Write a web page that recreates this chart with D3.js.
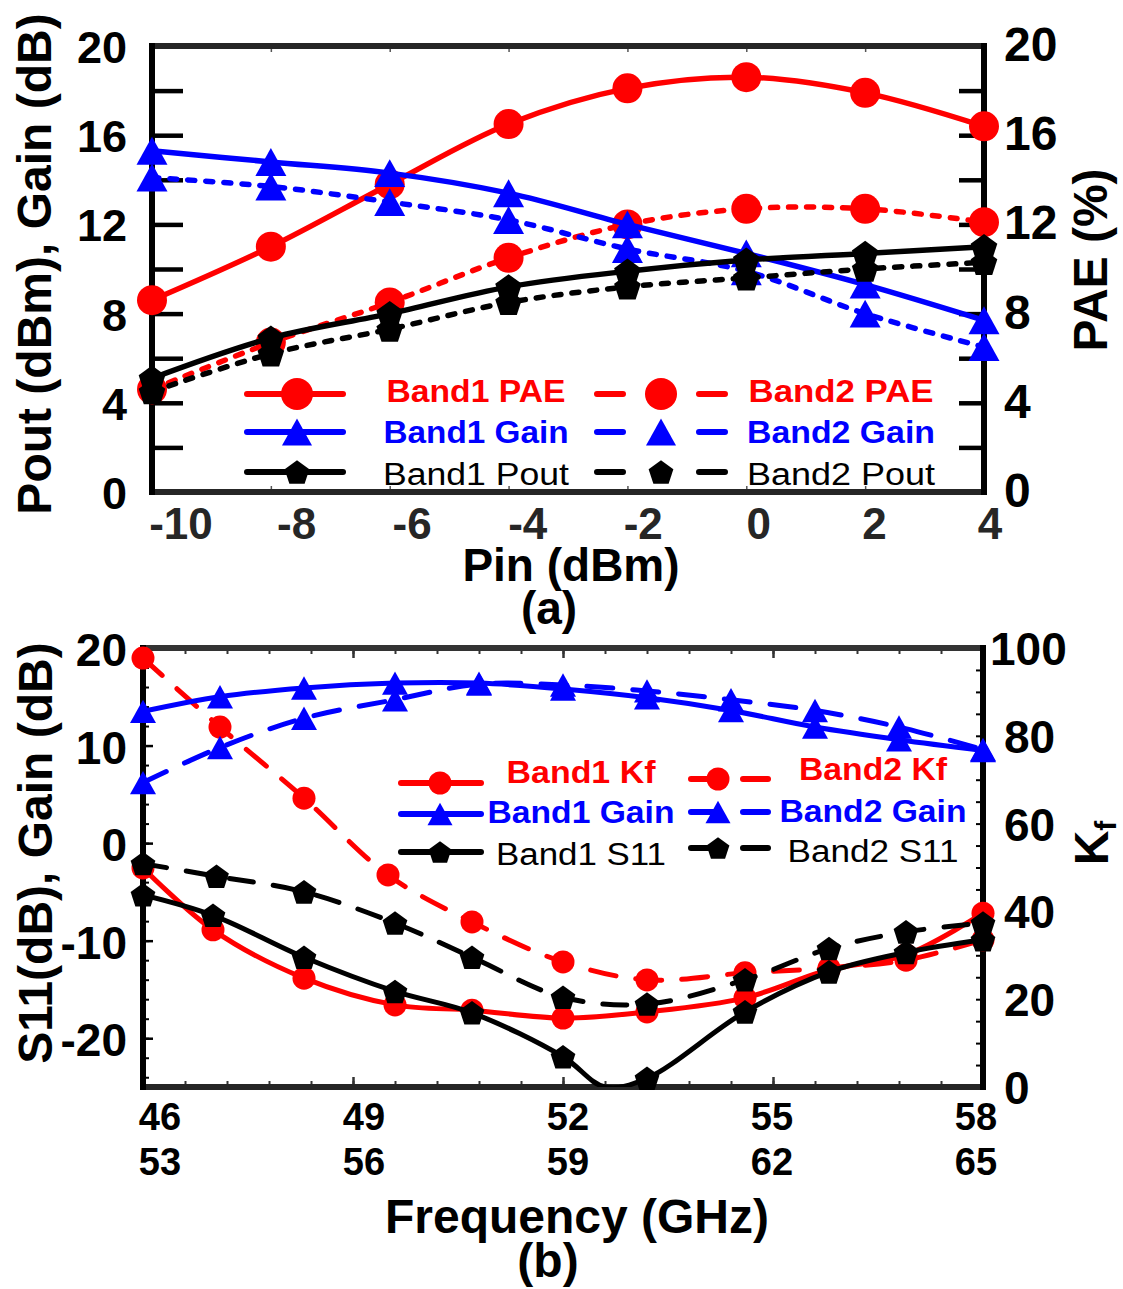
<!DOCTYPE html>
<meta charset="utf-8">
<style>
body { margin: 0; background: #fff; }
svg text { font-family: "Liberation Sans", Arial, sans-serif; }
</style>
<body>
<svg id="chart" width="1123" height="1289"></svg>

<script src="https://d3js.org/d3.v7.min.js"></script>
<script>

// ---------- (a) output power / gain / PAE vs Pin ----------
var pin = [-10, -8, -6, -4, -2, 0, 2, 4];
var paeBand1  = [8.6, 11.0, 13.8, 16.5, 18.1, 18.6, 17.9, 16.4];
var paeBand2  = [4.6, 6.7, 8.5, 10.5, 12.0, 12.7, 12.7, 12.1];
var gainBand1 = [15.3, 14.8, 14.3, 13.4, 12.0, 10.7, 9.3, 7.7];
var gainBand2 = [14.1, 13.7, 13.0, 12.2, 10.9, 9.9, 8.0, 6.5];
var poutBand1 = [5.1, 6.9, 8.0, 9.2, 9.9, 10.4, 10.7, 11.0];
var poutBand2 = [4.5, 6.2, 7.3, 8.5, 9.2, 9.6, 10.0, 10.3];
var pinTicks = [-10, -8, -6, -4, -2, 0, 2, 4];
var yTicksA = [0, 4, 8, 12, 16, 20];

// ---------- (b) Kf / gain / S11 vs frequency ----------
var freqGain = [46, 47.1, 48.3, 49.6, 50.8, 52, 53.2, 54.4, 55.6, 56.8, 58];
var gainB1 = [13.5, 15.0, 15.9, 16.4, 16.4, 15.8, 14.9, 13.6, 11.9, 10.6, 9.5];
var gainB2 = [6.2, 9.8, 12.8, 14.7, 16.3, 16.2, 15.6, 14.7, 13.6, 11.9, 9.6];
var freqKf1 = [46, 47, 48.3, 49.6, 50.7, 52, 53.2, 54.6, 55.8, 56.9, 58];
var kfB1 = [49.9, 35.8, 24.8, 18.7, 17.5, 15.7, 17.1, 20.3, 26.7, 30.1, 39.6];
var freqKf2 = [46, 47.1, 48.3, 49.5, 50.7, 52, 53.2, 54.6, 55.8, 56.9, 58];
var kfB2 = [97.7, 82.0, 65.8, 48.3, 37.6, 28.5, 24.4, 26.0, 27.1, 28.9, 33.5];
var freqS11b1 = [46, 47, 48.3, 49.6, 50.7, 52, 52.6, 53.2, 54.6, 55.8, 56.9, 58];
var s11B1 = [-5.3, -7.4, -11.7, -15.2, -17.4, -21.9, -25, -24.1, -17.3, -13.2, -11.2, -9.9];
var s11B1NoMarker = [6];
var freqS11b2 = [46, 47.05, 48.3, 49.6, 50.7, 52, 53.2, 54.6, 55.8, 56.9, 58];
var s11B2 = [-2.1, -3.4, -5.0, -8.2, -11.7, -15.8, -16.5, -14.0, -10.8, -9.1, -8.2];
var freqTicksLow  = [46, 49, 52, 55, 58];
var freqTicksHigh = [53, 56, 59, 62, 65];
var yTicksB = [-20, -10, 0, 10, 20];
var kfTicks = [0, 20, 40, 60, 80, 100];

var RED = "#ff0000", BLUE = "#0000ff", BLACK = "#000000";
var svg = d3.select("#chart");

function pentagonPath(r) {
  var pts = d3.range(5).map(function(k) {
    var a = (-90 + 72 * k) * Math.PI / 180;
    return [r * Math.cos(a), r * Math.sin(a) + r * 0.095];
  });
  return "M" + pts.join("L") + "Z";
}
function trianglePath(w) {
  var h = w * 0.9;
  return "M0," + (-h / 2) + "L" + (w / 2) + "," + (h / 2) + "L" + (-w / 2) + "," + (h / 2) + "Z";
}
function marker(g, kind, x, y, s, color) {
  if (kind === "o") {
    g.append("circle").attr("cx", x).attr("cy", y).attr("r", s).attr("fill", color);
  } else {
    g.append("path")
      .attr("d", kind === "^" ? trianglePath(s) : pentagonPath(s))
      .attr("transform", "translate(" + x + "," + y + ")")
      .attr("fill", color);
  }
}

function tickStyle(g, w, color) {
  g.select(".domain").remove();
  g.selectAll(".tick line").attr("stroke", color).attr("stroke-width", w);
  g.selectAll(".tick text").remove();
}

// ================= panel (a) =================
var xA = d3.scaleLinear().domain([-10, 4]).range([152, 984]);
var xALabel = d3.scaleLinear().domain([-10, 4]).range([181, 990]);
var yA = d3.scaleLinear().domain([0, 20]).range([492, 46]);

var gA = svg.append("g");

// inward ticks
gA.append("g").attr("transform", "translate(152,0)")
  .call(d3.axisRight(yA).tickValues(d3.range(2, 20, 2)).tickSize(31).tickFormat(""))
  .call(tickStyle, 4.5, BLACK);
gA.append("g").attr("transform", "translate(984,0)")
  .call(d3.axisLeft(yA).tickValues(d3.range(2, 20, 2)).tickSize(25).tickFormat(""))
  .call(tickStyle, 4.5, BLACK);
gA.append("g").attr("transform", "translate(0,46)")
  .call(d3.axisBottom(xA).tickValues([-8, -6, -4, -2, 0, 2]).tickSize(6).tickFormat(""))
  .call(tickStyle, 1.5, "#555");
gA.append("g").attr("transform", "translate(0,492)")
  .call(d3.axisTop(xA).tickValues([-8, -6, -4, -2, 0, 2]).tickSize(6).tickFormat(""))
  .call(tickStyle, 1.5, "#555");

// frame
gA.append("line").attr("x1", 149).attr("x2", 987).attr("y1", 46).attr("y2", 46)
  .attr("stroke", "#262626").attr("stroke-width", 6);
gA.append("line").attr("x1", 149).attr("x2", 987).attr("y1", 492).attr("y2", 492)
  .attr("stroke", "#262626").attr("stroke-width", 6);
gA.append("line").attr("x1", 152).attr("x2", 152).attr("y1", 43).attr("y2", 495)
  .attr("stroke", BLACK).attr("stroke-width", 6);
gA.append("line").attr("x1", 984).attr("x2", 984).attr("y1", 43).attr("y2", 495)
  .attr("stroke", BLACK).attr("stroke-width", 6);

// tick labels
gA.selectAll(".xl").data(pinTicks).enter().append("text")
  .attr("x", function(d) { return xALabel(d); }).attr("y", 539)
  .attr("text-anchor", "middle").attr("font-size", 44).attr("font-weight", "bold")
  .attr("fill", "#262626").text(function(d) { return d; });
gA.selectAll(".yl").data(yTicksA).enter().append("text")
  .attr("x", 127).attr("y", function(d) { return yA(d) + 17; })
  .attr("text-anchor", "end").attr("font-size", 45).attr("font-weight", "bold")
  .text(function(d) { return d; });
gA.selectAll(".yr").data(yTicksA).enter().append("text")
  .attr("x", 1004).attr("y", function(d) { return yA(d) + 15; })
  .attr("text-anchor", "start").attr("font-size", 48).attr("font-weight", "bold")
  .text(function(d) { return d; });

// titles
gA.append("text").attr("x", 571).attr("y", 581).attr("text-anchor", "middle")
  .attr("font-size", 46).attr("font-weight", "bold").text("Pin (dBm)");
gA.append("text").attr("x", 549).attr("y", 624).attr("text-anchor", "middle")
  .attr("font-size", 46).attr("font-weight", "bold").text("(a)");
gA.append("text").attr("transform", "translate(51,264) rotate(-90)")
  .attr("text-anchor", "middle").attr("font-size", 48).attr("font-weight", "bold")
  .text("Pout (dBm), Gain (dB)");
gA.append("text").attr("transform", "translate(1107,260) rotate(-90)")
  .attr("text-anchor", "middle").attr("font-size", 48).attr("font-weight", "bold")
  .text("PAE (%)");

// series
var seriesA = [
  { y: paeBand1, color: RED, dash: null, mk: "o", s: 15 },
  { y: paeBand2, color: RED, dash: "7,11", mk: "o", s: 15 },
  { y: gainBand1, color: BLUE, dash: null, mk: "^", s: 31 },
  { y: gainBand2, color: BLUE, dash: "7,11", mk: "^", s: 31 },
  { y: poutBand1, color: BLACK, dash: null, mk: "p", s: 14 },
  { y: poutBand2, color: BLACK, dash: "7,11", mk: "p", s: 14 }
];
var lineA = d3.line().curve(d3.curveCatmullRom.alpha(0.5))
  .x(function(d) { return xA(d[0]); }).y(function(d) { return yA(d[1]); });

seriesA.forEach(function(s) {
  var pts = d3.zip(pin, s.y);
  gA.append("path").attr("d", lineA(pts)).attr("fill", "none")
    .attr("stroke", s.color).attr("stroke-width", 5.5)
    .attr("stroke-linecap", "round")
    .attr("stroke-dasharray", s.dash);
  pts.forEach(function(p) { marker(gA, s.mk, xA(p[0]), yA(p[1]), s.s, s.color); });
});

// legend (a)
var legA = [
  { label: "Band1 PAE", color: RED, mk: "o", s: 16, bold: true, col: 0, ly: 394, ty: 402, w: 179 },
  { label: "Band1 Gain", color: BLUE, mk: "^", s: 30, bold: true, col: 0, ly: 432, ty: 443, w: 185 },
  { label: "Band1 Pout", color: BLACK, mk: "p", s: 13, bold: false, col: 0, ly: 472, ty: 485, w: 186 },
  { label: "Band2 PAE", color: RED, mk: "o", s: 16, bold: true, col: 1, ly: 394, ty: 402, w: 185 },
  { label: "Band2 Gain", color: BLUE, mk: "^", s: 30, bold: true, col: 1, ly: 432, ty: 443, w: 188 },
  { label: "Band2 Pout", color: BLACK, mk: "p", s: 13, bold: false, col: 1, ly: 472, ty: 485, w: 188 }
];
legA.forEach(function(e) {
  if (e.col === 0) {
    gA.append("line").attr("x1", 247).attr("x2", 343).attr("y1", e.ly).attr("y2", e.ly)
      .attr("stroke", e.color).attr("stroke-width", 6).attr("stroke-linecap", "round");
    marker(gA, e.mk, 297, e.ly, e.s, e.color);
  } else {
    gA.append("line").attr("x1", 597).attr("x2", 726).attr("y1", e.ly).attr("y2", e.ly)
      .attr("stroke", e.color).attr("stroke-width", 6).attr("stroke-linecap", "round")
      .attr("stroke-dasharray", "26,76");
    marker(gA, e.mk, 661, e.ly, e.s, e.color);
  }
  gA.append("text").attr("x", e.col === 0 ? 476 : 841).attr("y", e.ty)
    .attr("text-anchor", "middle").attr("font-size", 31)
    .attr("font-weight", e.bold ? "bold" : "normal")
    .attr("textLength", e.w).attr("lengthAdjust", "spacingAndGlyphs")
    .attr("fill", e.color).text(e.label);
});

// ================= panel (b) =================
var xB = d3.scaleLinear().domain([46, 58]).range([143, 983]);
var xBLabel = d3.scaleLinear().domain([46, 58]).range([160, 976]);
var yB = d3.scaleLinear().domain([-25, 20]).range([1087, 648]);
var yK = d3.scaleLinear().domain([0, 100]).range([1087, 648]);

var gB = svg.append("g");
svg.append("defs").append("clipPath").attr("id", "clipB")
  .append("rect").attr("x", 143).attr("y", 648).attr("width", 840).attr("height", 439);

var minorF = d3.range(1, 20).map(function(i) { return 46 + i * 0.6; });
gB.append("g").attr("transform", "translate(0,648)")
  .call(d3.axisBottom(xB).tickValues(minorF).tickSize(6).tickFormat(""))
  .call(tickStyle, 2, "#333");
gB.append("g").attr("transform", "translate(0,648)")
  .call(d3.axisBottom(xB).tickValues([49, 52, 55]).tickSize(10).tickFormat(""))
  .call(tickStyle, 2.5, "#333");
gB.append("g").attr("transform", "translate(0,1087)")
  .call(d3.axisTop(xB).tickValues(minorF).tickSize(6).tickFormat(""))
  .call(tickStyle, 2, "#333");
gB.append("g").attr("transform", "translate(0,1087)")
  .call(d3.axisTop(xB).tickValues([49, 52, 55]).tickSize(10).tickFormat(""))
  .call(tickStyle, 2.5, "#333");
gB.append("g").attr("transform", "translate(143,0)")
  .call(d3.axisRight(yB).tickValues(d3.range(-24, 20, 2)).tickSize(6).tickFormat(""))
  .call(tickStyle, 2, BLACK);
gB.append("g").attr("transform", "translate(143,0)")
  .call(d3.axisRight(yB).tickValues([-20, -10, 0, 10]).tickSize(10).tickFormat(""))
  .call(tickStyle, 2.5, BLACK);
gB.append("g").attr("transform", "translate(983,0)")
  .call(d3.axisLeft(yK).tickValues(d3.range(5, 100, 5)).tickSize(7).tickFormat(""))
  .call(tickStyle, 2, BLACK);

gB.append("line").attr("x1", 140).attr("x2", 986).attr("y1", 648).attr("y2", 648)
  .attr("stroke", "#333").attr("stroke-width", 6);
gB.append("line").attr("x1", 140).attr("x2", 986).attr("y1", 1087).attr("y2", 1087)
  .attr("stroke", "#262626").attr("stroke-width", 6);
gB.append("line").attr("x1", 143).attr("x2", 143).attr("y1", 645).attr("y2", 1090)
  .attr("stroke", BLACK).attr("stroke-width", 6);
gB.append("line").attr("x1", 983).attr("x2", 983).attr("y1", 645).attr("y2", 1090)
  .attr("stroke", BLACK).attr("stroke-width", 6);

gB.selectAll(".xl1").data(freqTicksLow).enter().append("text")
  .attr("x", function(d) { return xBLabel(d); }).attr("y", 1130)
  .attr("text-anchor", "middle").attr("font-size", 38).attr("font-weight", "bold")
  .text(function(d) { return d; });
gB.selectAll(".xl2").data(freqTicksHigh).enter().append("text")
  .attr("x", function(d, i) { return xBLabel(freqTicksLow[i]); }).attr("y", 1175)
  .attr("text-anchor", "middle").attr("font-size", 38).attr("font-weight", "bold")
  .text(function(d) { return d; });
gB.selectAll(".yl").data(yTicksB).enter().append("text")
  .attr("x", 127).attr("y", function(d) { return yB(d) + 18; })
  .attr("text-anchor", "end").attr("font-size", 46).attr("font-weight", "bold")
  .text(function(d) { return d; });
gB.selectAll(".yr").data(kfTicks).enter().append("text")
  .attr("x", function(d) { return d === 100 ? 990 : 1004; })
  .attr("y", function(d) { return yK(d) + 17; })
  .attr("text-anchor", "start").attr("font-size", 46).attr("font-weight", "bold")
  .text(function(d) { return d; });

gB.append("text").attr("x", 577).attr("y", 1233).attr("text-anchor", "middle")
  .attr("font-size", 48).attr("font-weight", "bold").text("Frequency (GHz)");
gB.append("text").attr("x", 548).attr("y", 1277).attr("text-anchor", "middle")
  .attr("font-size", 48).attr("font-weight", "bold").text("(b)");
gB.append("text").attr("transform", "translate(52,853) rotate(-90)")
  .attr("text-anchor", "middle").attr("font-size", 48).attr("font-weight", "bold")
  .text("S11(dB), Gain (dB)");
var kt = gB.append("text").attr("transform", "translate(1108,843) rotate(-90)")
  .attr("text-anchor", "middle").attr("font-size", 48).attr("font-weight", "bold");
kt.append("tspan").text("K");
kt.append("tspan").attr("font-size", 30).attr("dy", 8).text("f");

var seriesB = [
  { x: freqKf1, y: kfB1, sc: yK, color: RED, dash: null, mk: "o", s: 11.5 },
  { x: freqKf2, y: kfB2, sc: yK, color: RED, dash: "26,20", mk: "o", s: 11.5 },
  { x: freqGain, y: gainB1, sc: yB, color: BLUE, dash: null, mk: "^", s: 26 },
  { x: freqGain, y: gainB2, sc: yB, color: BLUE, dash: "26,20", mk: "^", s: 26 },
  { x: freqS11b1, y: s11B1, sc: yB, color: BLACK, dash: null, mk: "p", s: 13, skip: s11B1NoMarker },
  { x: freqS11b2, y: s11B2, sc: yB, color: BLACK, dash: "24,20", mk: "p", s: 13 }
];
seriesB.forEach(function(s) {
  var pts = d3.zip(s.x, s.y);
  var ln = d3.line().curve(d3.curveCatmullRom.alpha(0.5))
    .x(function(d) { return xB(d[0]); }).y(function(d) { return s.sc(d[1]); });
  gB.append("path").attr("d", ln(pts)).attr("fill", "none")
    .attr("clip-path", "url(#clipB)")
    .attr("stroke", s.color).attr("stroke-width", 5)
    .attr("stroke-linecap", "round")
    .attr("stroke-dasharray", s.dash);
  pts.forEach(function(p, i) {
    if (s.skip && s.skip.indexOf(i) >= 0) return;
    marker(gB, s.mk, xB(p[0]), s.sc(p[1]), s.s, s.color);
  });
});

// legend (b)
var legB = [
  { label: "Band1 Kf", color: RED, mk: "o", s: 11.5, bold: true, col: 0, ly: 783, ty: 783, w: 149 },
  { label: "Band1 Gain", color: BLUE, mk: "^", s: 25, bold: true, col: 0, ly: 814, ty: 823, w: 187 },
  { label: "Band1 S11", color: BLACK, mk: "p", s: 12, bold: false, col: 0, ly: 852, ty: 865, w: 170 },
  { label: "Band2 Kf", color: RED, mk: "o", s: 11.5, bold: true, col: 1, ly: 779, ty: 780, w: 148 },
  { label: "Band2 Gain", color: BLUE, mk: "^", s: 25, bold: true, col: 1, ly: 812, ty: 822, w: 187 },
  { label: "Band2 S11", color: BLACK, mk: "p", s: 12, bold: false, col: 1, ly: 848, ty: 862, w: 171 }
];
legB.forEach(function(e) {
  if (e.col === 0) {
    gB.append("line").attr("x1", 401).attr("x2", 481).attr("y1", e.ly).attr("y2", e.ly)
      .attr("stroke", e.color).attr("stroke-width", 6).attr("stroke-linecap", "round");
    marker(gB, e.mk, 440, e.ly, e.s, e.color);
  } else {
    gB.append("line").attr("x1", 691).attr("x2", 770).attr("y1", e.ly).attr("y2", e.ly)
      .attr("stroke", e.color).attr("stroke-width", 6).attr("stroke-linecap", "round")
      .attr("stroke-dasharray", "25,27");
    marker(gB, e.mk, 718, e.ly, e.s, e.color);
  }
  gB.append("text").attr("x", e.col === 0 ? 581 : 873).attr("y", e.ty)
    .attr("text-anchor", "middle").attr("font-size", 31)
    .attr("font-weight", e.bold ? "bold" : "normal")
    .attr("textLength", e.w).attr("lengthAdjust", "spacingAndGlyphs")
    .attr("fill", e.color).text(e.label);
});

</script>
</body>
